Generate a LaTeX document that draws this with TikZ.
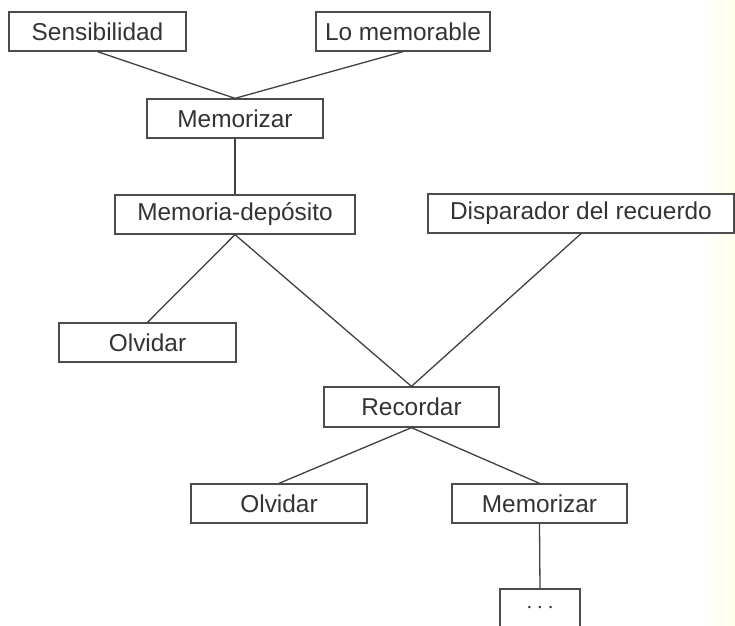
\documentclass[tikz,border=0pt]{standalone}
\usepackage{fontspec}
\setmainfont{Liberation Sans}
\usepackage{xcolor}
\usepackage{tikz}
\usetikzlibrary{positioning, calc}

\begin{document}
\begin{tikzpicture}[x=0.5pt, y=-0.5pt, every node/.style={font=\fontsize{12.2}{14}\selectfont}]
				\tikzstyle{concepto}=[draw=black!70, line width=0.65pt, minimum height=19.5pt, minimum width=88pt, fill=white, text=black!80, inner sep=2pt]
				\tikzstyle{enlace}=[draw=black!75, line width=0.65pt]

				\useasboundingbox (0,0) rectangle (735,626);
				% tinte del papel escaneado
				\shade[left color=white, right color=yellow!8!white] (700,0) rectangle (735,626);

				\node (sensibilidad) at (97.5,31.5) [concepto, minimum width=88.5pt] {Sensibilidad};
				\node (memorable) at (403,31.5) [concepto, minimum width=87pt] {Lo memorable};
				\node (memorizar1) at (235,118.5) [concepto] {Memorizar};
				\node (deposito) at (235,214.5) [concepto, minimum width=120pt] {Memoria-depósito};
				\node (disparador) at (581,213.5) [concepto, minimum width=153pt] {Disparador del recuerdo};
				\node (olvidar1) at (147.5,342.5) [concepto, minimum width=88.5pt] {Olvidar};
				\node (recordar) at (411.5,407) [concepto, minimum width=87.5pt, minimum height=20pt] {Recordar};
				\node (olvidar2) at (279,503.5) [concepto] {Olvidar};
				\node (memorizar2) at (539.5,503.5) [concepto, minimum width=87.5pt] {Memorizar};
				\node (etc) at (540,608.5) [concepto, minimum width=40pt] {$\cdots$};

				\draw [enlace] (sensibilidad.south) -- (memorizar1.north);
				\draw [enlace] (memorable.south) -- (memorizar1.north);
				\draw [enlace] (memorizar1.south) -- (deposito.north);

				\draw [enlace] (deposito.south) -- (olvidar1.north);
				\draw [enlace] (deposito.south) -- (recordar.north);
				\draw [enlace] (disparador.south) -- (recordar.north);

				\draw [enlace] (recordar.south) -- (olvidar2.north);
				\draw [enlace] (recordar.south) -- (memorizar2.north);
				\draw [enlace] (memorizar2.south) -- (etc.north);

\end{tikzpicture}
\end{document}
